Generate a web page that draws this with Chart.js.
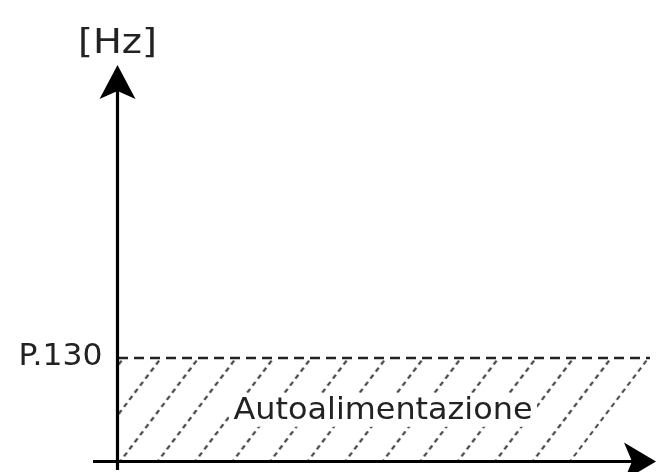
<!DOCTYPE html>
<html>
<head>
<meta charset="utf-8">
<script src="https://cdn.jsdelivr.net/npm/chart.js@4"></script>
<style>
html, body { margin: 0; padding: 0; background: #fff; }
#wrap { width: 656px; height: 472px; }
</style>
</head>
<body>
<div id="wrap"><canvas id="chart"></canvas></div>
<script>
// both axes are in relative units 0..100 (no numeric ticks in the drawing)
const yAxisTitle = '[Hz]';
const thresholdValue = 26;
const thresholdLabel = 'P.130';
const regionLabel = 'Autoalimentazione';
// hatched area: top edge at the threshold, right edge slanted like the hatching
const regionX = [0, 100, 85.3, 0];
const regionY = [26, 26, 0, 0];
// dashed threshold line
const lineX = [0, 100];
const lineY = [26, 26];

// hatch tile: dashed diagonal lines, 37.5px apart, slope 75/99
const TILE_W = 75, TILE_H = 99, STEP = 37.5;
function makeHatch() {
    const c = document.createElement('canvas');
    c.width = TILE_W;
    c.height = TILE_H;
    const g = c.getContext('2d');
    const len = Math.sqrt(TILE_W * TILE_W + TILE_H * TILE_H);
    const period = len / 14;
    g.strokeStyle = '#444';
    g.lineWidth = 2.2;
    g.setLineDash([4.8, period - 4.8]);
    for (let k = -2; k <= 6; k++) {
        const cx = k * STEP;
        g.beginPath();
        g.moveTo(cx + TILE_W, -TILE_H);
        g.lineTo(cx - 2 * TILE_W, 2 * TILE_H);
        g.stroke();
    }
    return g.createPattern(c, 'repeat');
}
const hatch = makeHatch();

function arrow(ctx, tx, ty, dx, dy, len, half, notch) {
    const bx = tx - dx * len, by = ty - dy * len;
    const px = -dy, py = dx;
    ctx.beginPath();
    ctx.moveTo(tx, ty);
    ctx.lineTo(bx + px * half, by + py * half);
    ctx.lineTo(tx - dx * (len - notch), ty - dy * (len - notch));
    ctx.lineTo(bx - px * half, by - py * half);
    ctx.closePath();
    ctx.fill();
}

function fitText(ctx, text, x, y, size, width, align) {
    ctx.font = size + 'px "DejaVu Sans"';
    const w = ctx.measureText(text).width;
    ctx.save();
    ctx.translate(x, y);
    ctx.scale(width / w, 1);
    ctx.textAlign = align;
    ctx.textBaseline = 'alphabetic';
    ctx.fillText(text, 0, 0);
    ctx.restore();
}

// line the hatching up with the top right corner of the area
const hatchAnchor = {
    id: 'hatchAnchor',
    beforeDraw(chart) {
        const X = chart.scales.x.getPixelForValue(regionX[1]) - 1.5;
        const Y = chart.scales.y.getPixelForValue(regionY[1]);
        const tx = ((X + (TILE_W / TILE_H) * Y) % STEP + STEP) % STEP;
        hatch.setTransform(new DOMMatrix([1, 0, 0, 1, tx, 0]));
    }
};

const axesAndText = {
    id: 'axesAndText',
    afterDraw(chart) {
        const ctx = chart.ctx;
        const area = chart.chartArea;
        const ax = chart.scales.x.getPixelForValue(0) - 0.5;
        const ay = chart.scales.y.getPixelForValue(0) + 0.5;
        const thr = chart.scales.y.getPixelForValue(thresholdValue);

        ctx.save();
        // label box over the hatching
        const midX = (area.left + area.right) / 2 - 1;
        const base = (thr + ay) / 2 + 9;
        ctx.fillStyle = '#fff';
        ctx.fillRect(midX - 154, base - 26, 308, 34);

        ctx.fillStyle = '#222';
        fitText(ctx, regionLabel, midX, base, 30, 299, 'center');
        fitText(ctx, thresholdLabel, ax - 15, thr + 7, 30, 84, 'right');
        fitText(ctx, yAxisTitle, ax, area.top - 12, 34, 79, 'center');

        // axes
        ctx.strokeStyle = '#000';
        ctx.fillStyle = '#000';
        ctx.lineWidth = 3.2;
        ctx.beginPath();
        ctx.moveTo(ax, chart.height - 2);
        ctx.lineTo(ax, area.top + 12);
        ctx.moveTo(93, ay);
        ctx.lineTo(chart.width - 12, ay);
        ctx.stroke();
        arrow(ctx, ax, area.top, 0, -1, 34, 18, 8);
        arrow(ctx, chart.width, ay, 1, 0, 32, 19, 8);
        ctx.restore();
    }
};

new Chart(document.getElementById('chart'), {
    type: 'scatter',
    data: {
        datasets: [{
            data: regionX.map((x, i) => ({ x: x, y: regionY[i] })),
            showLine: true,
            fill: 'shape',
            backgroundColor: hatch,
            borderWidth: 0,
            pointRadius: 0
        }, {
            data: lineX.map((x, i) => ({ x: x, y: lineY[i] })),
            showLine: true,
            fill: false,
            borderColor: '#222',
            borderWidth: 2.6,
            borderDash: [10, 6],
            pointRadius: 0
        }]
    },
    options: {
        responsive: true,
        maintainAspectRatio: false,
        animation: false,
        layout: { padding: { left: 118, right: 6, top: 65, bottom: 11 } },
        scales: {
            x: { type: 'linear', display: false, min: 0, max: 100 },
            y: { type: 'linear', display: false, min: 0, max: 100 }
        },
        plugins: {
            legend: { display: false },
            tooltip: { enabled: false }
        }
    },
    plugins: [hatchAnchor, axesAndText]
});
</script>
</body>
</html>
